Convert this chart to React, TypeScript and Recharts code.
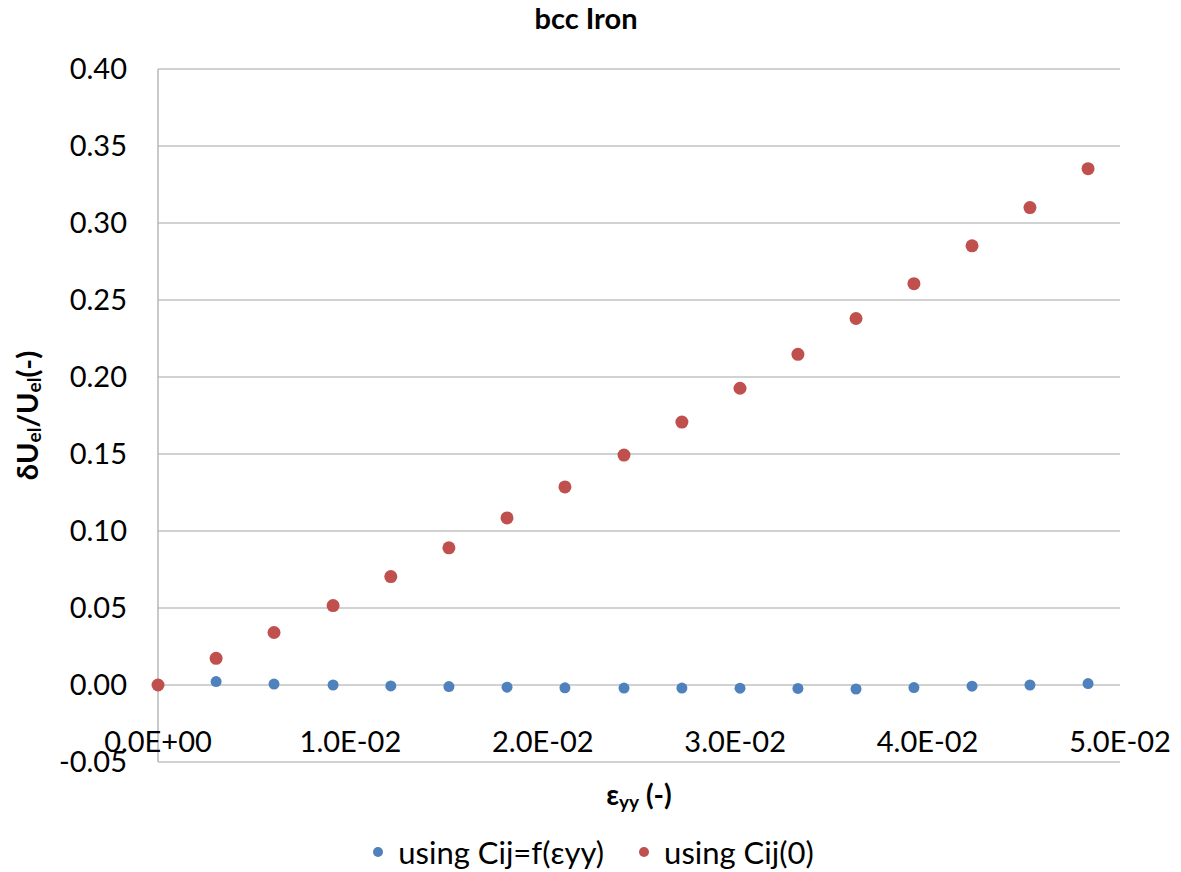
import { ScatterChart, Scatter, XAxis, YAxis, CartesianGrid, Legend } from "recharts";

const strain = [
  0, 0.00302, 0.00603, 0.0091, 0.0121, 0.01512, 0.01814, 0.02115, 0.02422,
  0.02723, 0.03025, 0.03326, 0.03628, 0.03929, 0.04231, 0.04532, 0.04834,
];
const ratioVarying = [
  0, 0.0022, 0.0006, 0, -0.0006, -0.001, -0.0014, -0.0018, -0.002, -0.002,
  -0.0021, -0.0022, -0.0026, -0.0017, -0.0008, 0, 0.0009,
];
const ratioFixed = [
  0, 0.0173, 0.0341, 0.0516, 0.0704, 0.0891, 0.1085, 0.1286, 0.1493, 0.1707,
  0.1927, 0.2147, 0.238, 0.2606, 0.2852, 0.31, 0.3353,
];
const xTicks = [0, 0.01, 0.02, 0.03, 0.04, 0.05];
const yTicks = [-0.05, 0, 0.05, 0.1, 0.15, 0.2, 0.25, 0.3, 0.35, 0.4];
const seriesNames = ["using Cij=f(εyy)", "using Cij(0)"];
const seriesColors = ["#4f81bd", "#c0504d"];

const varyingData = strain.map((x, i) => ({ x, y: ratioVarying[i] }));
const fixedData = strain.map((x, i) => ({ x, y: ratioFixed[i] }));

const FONT = "Lato, 'Open Sans', sans-serif";
const GRID = "#a6a6a6";

const sci = (v: number) => {
  const [m, e] = v.toExponential(1).split("e");
  const sign = e[0] === "-" ? "-" : "+";
  const digits = e.replace(/[+-]/, "").padStart(2, "0");
  return `${m}E${sign}${digits}`;
};

const XTick = (props: any) => {
  const { x, y, payload } = props;
  return (
    <text x={x} y={y - 22} textAnchor="middle" dominantBaseline="central" fontSize={29} fontFamily={FONT} fill="#000">
      {sci(payload.value)}
    </text>
  );
};

const XLabel = (props: any) => {
  const { viewBox } = props;
  const cx = viewBox.x + viewBox.width / 2;
  return (
    <text x={cx} y={viewBox.y + 32} textAnchor="middle" dominantBaseline="central" fontSize={28} fontWeight={700} fontFamily={FONT} fill="#000">
      ε<tspan dy={7} fontSize={19}>yy</tspan>
      <tspan dy={-7}> (-)</tspan>
    </text>
  );
};

const YLabel = (props: any) => {
  const { viewBox } = props;
  const cx = viewBox.x + 8;
  const cy = viewBox.y + viewBox.height / 2;
  return (
    <text
      x={cx}
      y={cy}
      transform={`rotate(-90 ${cx} ${cy})`}
      textAnchor="middle"
      dominantBaseline="central"
      fontSize={29}
      fontWeight={700}
      fontFamily={FONT}
      fill="#000"
    >
      δU<tspan dy={7} fontSize={19}>el</tspan>
      <tspan dy={-7}>/U</tspan>
      <tspan dy={7} fontSize={19}>el</tspan>
      <tspan dy={-7}>(-)</tspan>
    </text>
  );
};

const LegendBox = () => (
  <div style={{ display: "flex", justifyContent: "center", alignItems: "center", gap: 34, fontFamily: FONT, fontSize: 31, color: "#000", paddingLeft: 48 }}>
    {seriesNames.map((name, i) => (
      <div key={name} style={{ display: "flex", alignItems: "center", gap: 14 }}>
        <svg width={12} height={12}>
          <circle cx={6} cy={6} r={5} fill={seriesColors[i]} />
        </svg>
        <span>{name}</span>
      </div>
    ))}
  </div>
);

const dot = (color: string, r: number) => (p: any) => <circle cx={p.cx} cy={p.cy} r={r} fill={color} />;

export default function App() {
  return (
    <div style={{ position: "absolute", left: 0, top: 0, width: 1181, height: 872, background: "#fff" }}>
      <div style={{ position: "absolute", top: 0, left: 0, width: 1172, textAlign: "center", fontFamily: FONT, fontWeight: 700, fontSize: 29, color: "#000" }}>
        bcc Iron
      </div>
      <ScatterChart width={1181} height={872} margin={{ top: 69, right: 61, bottom: 12, left: 18 }}>
        <CartesianGrid horizontal vertical={false} stroke={GRID} strokeWidth={1.2} />
        <XAxis
          type="number"
          dataKey="x"
          domain={[0, 0.05]}
          ticks={xTicks}
          axisLine={false}
          tickLine={false}
          tickSize={0}
          tickMargin={0}
          height={60}
          tick={<XTick />}
          interval={0}
          label={<XLabel />}
        />
        <YAxis
          type="number"
          dataKey="y"
          domain={[-0.05, 0.4]}
          ticks={yTicks}
          width={140}
          axisLine={{ stroke: GRID, strokeWidth: 1.2 }}
          tickLine={false}
          tickSize={0}
          tickMargin={31}
          interval={0}
          tickFormatter={(v: number) => v.toFixed(2)}
          tick={{ fontSize: 29, fontFamily: FONT, fill: "#000" }}
          label={<YLabel />}
        />
        <Legend verticalAlign="bottom" content={<LegendBox />} wrapperStyle={{ bottom: 1 }} />
        <Scatter name={seriesNames[0]} data={varyingData} fill={seriesColors[0]} shape={dot(seriesColors[0], 5.5)} isAnimationActive={false} />
        <Scatter name={seriesNames[1]} data={fixedData} fill={seriesColors[1]} shape={dot(seriesColors[1], 6.5)} isAnimationActive={false} />
      </ScatterChart>
    </div>
  );
}
